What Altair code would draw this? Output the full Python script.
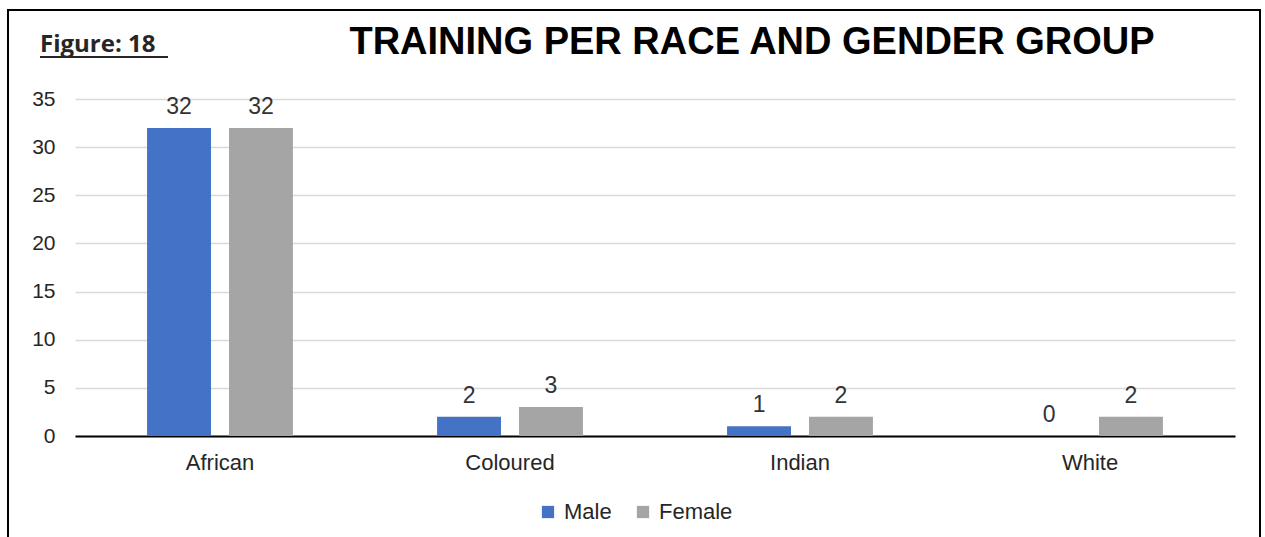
import altair as alt
import pandas as pd

# Trainees per race group, split by gender
races = ["African", "Coloured", "Indian", "White"]
male = [32, 2, 1, 0]
female = [32, 3, 2, 2]
genders = ["Male", "Female"]
gender_colors = ["#4472C4", "#A5A5A5"]
y_ticks = [0, 5, 10, 15, 20, 25, 30, 35]

rows = []
for i, r in enumerate(races):
    rows.append({"race": r, "gender": "Male", "count": male[i]})
    rows.append({"race": r, "gender": "Female", "count": female[i]})
df = pd.DataFrame(rows)
one = pd.DataFrame({"k": [0]})  # single row for decorations

W, H = 1160, 337
FONT = "Liberation Sans"
TXT = "#262626"

x_enc = alt.X(
    "race:N", sort=races, title=None,
    scale=alt.Scale(paddingInner=0.497, paddingOuter=0.2485),
    axis=alt.Axis(labelAngle=0, ticks=False, grid=False, domainColor="#000000",
                  domainWidth=2, labelFontSize=22, labelColor=TXT, labelFont=FONT,
                  labelPadding=16),
)
xo_enc = alt.XOffset("gender:N", sort=genders, scale=alt.Scale(paddingInner=0.22, paddingOuter=0))
y_enc = alt.Y(
    "count:Q", title=None,
    scale=alt.Scale(domain=[0, 35], nice=False),
    axis=alt.Axis(values=y_ticks, domain=False, ticks=False, gridColor="#D9D9D9",
                  gridWidth=1.3, labelFontSize=21, labelColor=TXT, labelFont=FONT,
                  labelPadding=20),
)
color_enc = alt.Color(
    "gender:N", sort=genders, title=None,
    scale=alt.Scale(domain=genders, range=gender_colors),
    legend=alt.Legend(orient="none", direction="horizontal", legendX=462, legendY=402,
                      symbolType="square", symbolSize=150, symbolStrokeWidth=0,
                      labelFontSize=22, labelFont=FONT, labelColor=TXT,
                      columnPadding=20, labelOffset=5),
)

bars = alt.Chart(df).mark_bar().encode(x=x_enc, xOffset=xo_enc, y=y_enc, color=color_enc)

labels = alt.Chart(df).mark_text(
    baseline="alphabetic", dy=-14, fontSize=23, font=FONT, color="#333333"
).encode(x=alt.X("race:N", sort=races), xOffset=xo_enc, y="count:Q", text="count:Q")

# outer frame around the figure
frame = alt.Chart(one).mark_rect(fill=None, stroke="#000000", strokeWidth=2, clip=False).encode(
    x=alt.value(-67), x2=alt.value(1185), y=alt.value(-89), y2=alt.value(450)
)

title = alt.Chart(one).mark_text(
    text="TRAINING PER RACE AND GENDER GROUP", align="center", baseline="alphabetic",
    fontSize=38, fontWeight="bold", font=FONT, color="#000000"
).encode(x=alt.value(677), y=alt.value(-45))

fig_label = alt.Chart(one).mark_text(
    text="Figure: 18", align="left", baseline="alphabetic", fontSize=24,
    fontWeight="bold", font="Open Sans", color="#262626"
).encode(x=alt.value(-35), y=alt.value(-47))

fig_underline = alt.Chart(one).mark_rule(color="#262626", strokeWidth=2).encode(
    x=alt.value(-35), x2=alt.value(93), y=alt.value(-42)
)

chart = alt.layer(frame, bars, labels, title, fig_label, fig_underline).properties(
    width=W, height=H,
    background="#ffffff",
    autosize=alt.AutoSizeParams(type="none"),
    padding={"left": 75, "top": 99, "right": 30, "bottom": 101},
).configure_view(stroke=None)

chart.save("out.html", embed_options={"renderer": "svg", "actions": False})
